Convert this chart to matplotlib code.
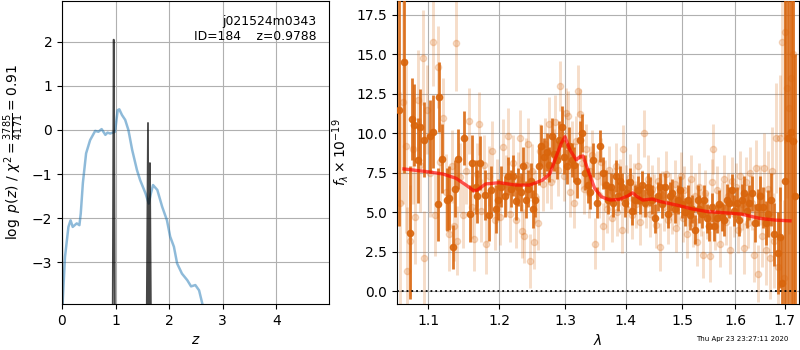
"""Redshift-fit summary for j021524m0343 ID=184: log p(z) on the left,
the G141 1D spectrum with the best-fit model on the right."""

import matplotlib

matplotlib.use("Agg")
import matplotlib.pyplot as plt
from matplotlib.ticker import NullLocator, ScalarFormatter

# ---- left panel: log p(z) -------------------------------------------------
PZ_Z = [0.0, 0.056, 0.12, 0.16, 0.2, 0.275, 0.325, 0.35, 0.39, 0.45, 0.525,
        0.62, 0.68, 0.74, 0.81, 0.85, 0.9, 0.99, 1.04, 1.07, 1.12, 1.18, 1.24,
        1.31, 1.4, 1.46, 1.56, 1.62, 1.66, 1.7, 1.78, 1.87, 1.96, 2.02, 2.09,
        2.15, 2.24, 2.34, 2.41, 2.49, 2.56, 2.62, 2.66]
PZ_LOGP = [-4.2, -2.88, -2.2, -2.05, -2.2, -2.12, -2.16, -1.9, -1.2, -0.53,
           -0.23, -0.02, -0.04, 0.02, -0.11, -0.06, -0.08, -0.04, 0.45, 0.47,
           0.34, 0.23, 0.0, -0.45, -0.91, -1.14, -1.44, -1.67, -1.44, -1.25,
           -1.36, -1.74, -2.05, -2.42, -2.65, -3.03, -3.26, -3.41, -3.55,
           -3.52, -3.64, -3.94, -4.3]

# fine-grid p(z) around the peaks
FINE_Z = [0.0, 0.012, 0.945, 0.964, 0.968, 0.99, 1.578, 1.606, 1.616, 1.632,
          1.642, 1.665]
FINE_LOGP = [-1.75, -5.0, -5.0, 2.05, 2.05, -5.0, -5.0, 0.16, -5.0, -5.0,
             -0.75, -5.0]

ROOT = "j021524m0343"
OBJ_ID = 184
Z_BEST = 0.9788
CHI2_NUM, CHI2_DEN, CHI2_RED = 3785, 4171, 0.91
TIMESTAMP = "Thu Apr 23 23:27:11 2020"

# ---- right panel: spectrum (microns, flux x 1e-19) -------------------------
MODEL_WAVE = [1.068, 1.098, 1.12, 1.138, 1.152, 1.163, 1.168, 1.18, 1.2, 1.224,
              1.245, 1.255, 1.265, 1.276, 1.286, 1.294, 1.3, 1.308, 1.318,
              1.324, 1.329, 1.337, 1.348, 1.359, 1.373, 1.389, 1.403, 1.412,
              1.42, 1.429, 1.446, 1.462, 1.49, 1.519, 1.548, 1.577, 1.612,
              1.649, 1.68, 1.711]
MODEL_FLUX = [7.74, 7.57, 7.42, 7.15, 6.72, 6.36, 6.40, 6.79, 6.87, 6.72,
              6.72, 6.87, 7.04, 7.42, 8.52, 9.36, 9.78, 8.94, 8.31, 8.52, 8.56,
              7.67, 6.51, 5.98, 5.77, 5.81, 6.02, 6.23, 5.98, 5.77, 5.83, 5.66,
              5.45, 5.2, 5.03, 4.97, 4.88, 4.61, 4.5, 4.45]

# binned spectrum (dark points); rows of the three lists line up
BIN_WAVE = [1.061, 1.0685, 1.076, 1.078, 1.081, 1.086, 1.089, 1.094, 1.103,
            1.106, 1.113, 1.115, 1.119, 1.126, 1.129, 1.134, 1.137, 1.1415,
            1.1495, 1.157, 1.161, 1.1655, 1.168, 1.1715, 1.1795, 1.1845, 1.188,
            1.1955, 1.198, 1.203, 1.208, 1.213, 1.217, 1.220, 1.224, 1.228,
            1.232, 1.235, 1.239, 1.243, 1.247, 1.250, 1.254, 1.260, 1.263,
            1.267, 1.271, 1.2745, 1.279, 1.283, 1.287, 1.2905, 1.295, 1.299,
            1.3025, 1.306, 1.3105, 1.3145, 1.319, 1.3235, 1.3275, 1.332, 1.3365,
            1.3405, 1.345, 1.351, 1.3567, 1.362, 1.366, 1.370, 1.3748, 1.3788,
            1.383, 1.3862, 1.390, 1.394, 1.3985, 1.403, 1.407, 1.411, 1.4155,
            1.4205, 1.4245, 1.429, 1.4335, 1.438, 1.442, 1.446, 1.451, 1.4555,
            1.460, 1.464, 1.469, 1.474, 1.4785, 1.482, 1.487, 1.4915, 1.496,
            1.500, 1.505, 1.510, 1.514, 1.5185, 1.5235, 1.5285, 1.531, 1.536,
            1.541, 1.5455, 1.550, 1.555, 1.560, 1.5645, 1.569, 1.574, 1.579,
            1.5835, 1.588, 1.5935, 1.5985, 1.6035, 1.608, 1.613, 1.6185, 1.623,
            1.6275, 1.633, 1.6395, 1.645, 1.6495, 1.656, 1.661, 1.666, 1.672,
            1.6785, 1.6855, 1.690, 1.695, 1.700, 1.706, 1.7125, 1.7165, 1.7215]
BIN_FLUX = [11.5, 14.5, 3.7, 10.9, 10.5, 8.3, 10.4, 9.6, 9.8,
            10.1, 5.5, 12.3, 8.4, 5.8, 5.9, 2.8, 6.5, 8.4,
            9.7, 4.9, 8.1, 6.6, 6.0, 8.1, 6.1, 4.8, 6.4,
            5.2, 5.8, 6.6, 6.0, 7.3, 6.5, 7.3, 5.7, 6.6,
            6.3, 7.9, 5.8, 6.5, 7.0, 5.2, 5.8, 7.9, 9.2,
            8.5, 8.8, 8.0, 9.8, 8.7, 8.3, 9.6, 10.4, 8.5,
            7.9, 9.2, 8.3, 8.0, 7.0, 9.6, 10.0, 7.5, 6.7,
            6.3, 8.3, 5.6, 9.2, 7.5, 6.7, 5.8, 6.6, 5.6,
            7.3, 6.0, 7.0, 6.6, 5.6, 6.2, 6.9, 5.1, 5.8,
            6.4, 5.8, 6.7, 5.6, 6.6, 6.3, 5.8, 4.6, 6.0,
            6.6, 5.5, 6.6, 4.9, 6.0, 6.2, 5.2, 5.8, 6.4,
            5.5, 5.0, 5.8, 4.8, 5.2, 3.9, 5.8, 5.2, 4.9,
            5.8, 4.6, 4.1, 5.3, 4.1, 4.6, 5.5, 4.7, 4.5,
            5.8, 5.6, 6.4, 5.1, 5.6, 4.5, 5.8, 6.2, 5.1,
            5.6, 6.2, 4.3, 5.3, 6.0, 5.3, 4.3, 4.9, 5.8,
            3.6, 2.4, 3.4, 0.5, 7.0, 9.7, 10.1, 9.5, 6.0]
BIN_ERR = [7.4, 7.0, 4.2, 2.6, 2.6, 2.7, 2.4, 2.4, 2.3,
           2.3, 2.3, 2.2, 2.2, 2.0, 2.0, 1.4, 1.8, 1.9,
           1.7, 1.8, 1.8, 1.7, 1.7, 1.7, 1.6, 1.6, 1.5,
           1.5, 1.3, 1.3, 1.3, 1.2, 1.2, 1.3, 1.2, 1.2,
           1.2, 1.2, 1.2, 1.2, 1.1, 1.2, 1.1, 1.2, 1.3,
           1.2, 1.2, 1.1, 1.2, 1.1, 1.2, 1.2, 1.3, 1.1,
           1.1, 1.2, 1.1, 1.1, 1.1, 1.2, 1.2, 1.1, 1.1,
           1.1, 1.1, 1.0, 1.0, 1.0, 1.0, 0.9, 0.9, 0.9,
           1.0, 0.9, 0.9, 0.9, 0.9, 0.9, 0.9, 0.9, 0.9,
           0.9, 0.9, 0.9, 0.9, 0.9, 0.9, 0.9, 0.9, 0.9,
           0.9, 0.9, 0.9, 0.9, 0.9, 0.9, 0.9, 0.9, 0.9,
           0.9, 0.9, 0.9, 0.9, 0.9, 0.9, 0.9, 0.9, 0.9,
           0.9, 0.9, 0.9, 0.9, 0.9, 0.9, 0.9, 0.9, 1.0,
           1.0, 1.0, 1.0, 1.0, 1.0, 1.0, 1.0, 1.1, 1.1,
           1.1, 1.1, 1.2, 1.2, 1.3, 1.3, 1.4, 1.5, 1.7,
           2.0, 2.6, 3.2, 3.0, 14.0, 13.0, 14.0, 12.0, 9.0]

# unbinned spectrum (faint points); rows of the three lists line up
RAW_WAVE = [1.0625, 1.0665, 1.070, 1.0725, 1.076, 1.080, 1.083, 1.086, 1.089,
            1.093, 1.094, 1.098, 1.102, 1.106, 1.109, 1.113, 1.116, 1.120,
            1.124, 1.128, 1.132, 1.135, 1.138, 1.140, 1.144, 1.148, 1.152,
            1.156, 1.160, 1.163, 1.167, 1.170, 1.174, 1.178, 1.181, 1.185,
            1.189, 1.193, 1.197, 1.201, 1.205, 1.209, 1.213, 1.216, 1.220,
            1.224, 1.228, 1.231, 1.233, 1.236, 1.240, 1.243, 1.246, 1.248,
            1.251, 1.254, 1.258, 1.261, 1.265, 1.268, 1.271, 1.275, 1.278,
            1.282, 1.285, 1.289, 1.292, 1.295, 1.298, 1.302, 1.305, 1.308,
            1.311, 1.315, 1.318, 1.321, 1.324, 1.328, 1.331, 1.334, 1.338,
            1.341, 1.344, 1.348, 1.351, 1.355, 1.358, 1.362, 1.365, 1.369,
            1.372, 1.376, 1.379, 1.383, 1.386, 1.390, 1.393, 1.396, 1.400,
            1.403, 1.407, 1.410, 1.414, 1.417, 1.421, 1.424, 1.428, 1.431,
            1.435, 1.438, 1.442, 1.445, 1.449, 1.452, 1.456, 1.460, 1.463,
            1.467, 1.471, 1.474, 1.478, 1.482, 1.486, 1.489, 1.493, 1.497,
            1.501, 1.504, 1.508, 1.512, 1.516, 1.520, 1.523, 1.527, 1.531,
            1.535, 1.539, 1.543, 1.547, 1.551, 1.555, 1.558, 1.562, 1.566,
            1.570, 1.574, 1.578, 1.582, 1.586, 1.590, 1.594, 1.598, 1.602,
            1.606, 1.610, 1.614, 1.618, 1.622, 1.626, 1.630, 1.634, 1.638,
            1.642, 1.646, 1.650, 1.654, 1.658, 1.662, 1.666, 1.670, 1.674,
            1.678, 1.682, 1.686, 1.690, 1.694, 1.698, 1.701, 1.705, 1.709,
            1.713, 1.718]
RAW_FLUX = [5.6, 12.0, 9.2, 1.3, 3.2, 9.0, 4.7, 12.1, 8.0,
            14.8, 2.1, 11.5, 7.5, 15.8, 4.8, 14.2, 8.2, 11.0,
            6.3, 3.6, 7.9, 4.1, 15.7, 3.2, 7.2, 4.8, 7.6,
            10.8, 5.3, 3.3, 7.4, 10.6, 5.1, 8.0, 3.0, 7.3,
            8.9, 4.5, 6.6, 4.7, 9.1, 6.8, 9.8, 4.9, 8.1,
            4.5, 7.1, 9.7, 3.8, 3.5, 8.0, 9.3, 1.9, 7.6,
            3.1, 6.0, 4.3, 8.9, 6.8, 9.3, 7.3, 10.6, 6.9,
            8.6, 10.7, 7.7, 13.0, 9.9, 7.3, 11.3, 11.1, 6.3,
            9.2, 5.6, 9.5, 12.7, 11.2, 8.1, 6.5, 9.0, 6.2,
            7.6, 8.6, 3.0, 7.3, 6.1, 8.2, 4.1, 6.8, 5.2,
            7.7, 4.6, 6.3, 7.9, 5.0, 6.9, 3.9, 9.0, 6.5,
            5.2, 7.2, 4.8, 6.6, 5.5, 7.9, 4.4, 6.2, 10.0,
            5.5, 7.1, 4.9, 6.5, 5.9, 4.2, 7.0, 2.8, 6.1,
            5.3, 7.4, 4.5, 6.0, 5.1, 6.8, 4.0, 5.7, 7.3,
            4.6, 6.4, 3.6, 5.6, 7.1, 4.3, 6.0, 3.1, 6.6,
            5.0, 2.3, 6.2, 4.8, 2.2, 6.9, 9.0, 4.1, 6.4,
            3.0, 5.4, 7.1, 4.4, 6.0, 2.6, 7.0, 4.9, 6.6,
            3.9, 7.3, 5.5, 2.7, 6.9, 4.3, 7.5, 5.6, 2.3,
            7.8, 1.1, 6.1, 3.5, 7.8, 2.6, 6.5, 2.1, 7.6,
            3.2, 9.7, 1.5, 9.7, 15.8, 0.8, 16.4, 12.9, 11.6,
            13.5, 15.0]
RAW_ERR = [7.0, 6.5, 5.5, 4.0, 3.5, 3.5, 3.0, 3.2, 3.0,
           3.0, 3.0, 2.8, 2.8, 2.8, 2.6, 2.6, 2.5, 2.5,
           2.4, 2.3, 2.3, 2.2, 3.0, 2.2, 2.2, 2.1, 2.1,
           2.1, 2.0, 2.0, 2.0, 2.0, 2.0, 1.9, 1.9, 1.9,
           1.9, 1.9, 1.8, 1.8, 1.8, 1.8, 1.8, 1.8, 1.8,
           1.8, 1.7, 1.8, 1.7, 1.7, 1.7, 1.7, 1.7, 1.7,
           1.7, 1.7, 1.7, 1.7, 1.7, 1.7, 1.7, 1.7, 1.7,
           1.7, 1.7, 1.7, 1.6, 1.6, 1.6, 1.6, 1.6, 1.6,
           1.6, 1.6, 1.6, 1.6, 1.6, 1.6, 1.6, 1.6, 1.6,
           1.6, 1.6, 1.6, 1.6, 1.5, 1.5, 1.5, 1.5, 1.5,
           1.5, 1.5, 1.5, 1.5, 1.5, 1.5, 1.5, 1.5, 1.5,
           1.5, 1.5, 1.5, 1.5, 1.5, 1.5, 1.5, 1.5, 1.5,
           1.5, 1.5, 1.5, 1.5, 1.5, 1.5, 1.5, 1.5, 1.5,
           1.5, 1.5, 1.5, 1.5, 1.5, 1.5, 1.5, 1.5, 1.5,
           1.5, 1.5, 1.5, 1.5, 1.5, 1.5, 1.5, 1.5, 1.5,
           1.5, 1.5, 1.5, 1.5, 1.6, 1.5, 1.6, 1.5, 1.5,
           1.5, 1.5, 1.5, 1.5, 1.5, 1.5, 1.5, 1.5, 1.5,
           1.5, 1.6, 1.6, 1.6, 1.6, 1.6, 1.6, 1.7, 1.7,
           1.8, 1.8, 1.9, 2.0, 2.2, 2.2, 2.4, 2.6, 2.8,
           3.0, 3.5, 3.5, 4.0, 6.0, 5.0, 7.0, 7.0, 8.0,
           9.0, 9.0]

WAVE_TICKS = [1.1, 1.2, 1.3, 1.4, 1.5, 1.6, 1.7]
FLUX_TICKS = [0.0, 2.5, 5.0, 7.5, 10.0, 12.5, 15.0, 17.5]

GRISM_COLOR = "#d9650c"
PZ_COLOR = "#1f77b4"


def _plot_pz(ax: plt.Axes) -> None:
    ax.plot(PZ_Z, PZ_LOGP, color=PZ_COLOR, alpha=0.5, linewidth=1.8)
    ax.plot(FINE_Z, FINE_LOGP, color="k", alpha=0.72, linewidth=1.3)
    ax.set_xlim(0, 4.99)
    ax.set_ylim(-3.95, 2.93)
    ax.set_yticks([-3, -2, -1, 0, 1, 2])
    ax.grid(True, color="#b0b0b0")
    ax.set_xlabel(r"$z$")
    ax.set_ylabel(
        r"$\log\ p(z)$" + " / "
        + r"$\chi^2=\frac{%d}{%d}=%.2f$" % (CHI2_NUM, CHI2_DEN, CHI2_RED)
    )
    ax.text(0.951, 0.955, f"{ROOT}\nID={OBJ_ID}    z={Z_BEST:.4f}",
            ha="right", va="top", transform=ax.transAxes, fontsize=8.9)


def _plot_spectrum(ax: plt.Axes) -> None:
    ax.errorbar(RAW_WAVE, RAW_FLUX, RAW_ERR, color=GRISM_COLOR, marker="o",
                markersize=4.5, linestyle="None", elinewidth=2.1, alpha=0.22,
                zorder=2)
    ax.errorbar(BIN_WAVE, BIN_FLUX, BIN_ERR, color=GRISM_COLOR, marker="o",
                markersize=4.5, linestyle="None", elinewidth=2.0, alpha=0.88,
                zorder=3)
    ax.plot(MODEL_WAVE, MODEL_FLUX, color="red", alpha=0.65, linewidth=2.4,
            zorder=4)
    ax.axhline(0, color="k", linestyle=":", linewidth=1.3, zorder=5)

    ax.set_xscale("log")
    ax.set_xlim(1.059, 1.730)
    ax.set_ylim(-0.82, 18.39)
    ax.set_xticks(WAVE_TICKS)
    ax.xaxis.set_major_formatter(ScalarFormatter())
    ax.xaxis.set_minor_locator(NullLocator())
    ax.set_yticks(FLUX_TICKS)
    ax.grid(True, color="#b0b0b0")
    ax.set_xlabel(r"$\lambda$")
    ax.set_ylabel(r"$f_\lambda\times10^{-19}$")


def main() -> None:
    fig = plt.figure(figsize=(8, 3.5), dpi=100)
    ax_pz = fig.add_axes([0.0775, 0.1314, 0.334, 0.866])
    ax_sp = fig.add_axes([0.4963, 0.1314, 0.5025, 0.866])

    _plot_pz(ax_pz)
    _plot_spectrum(ax_sp)

    fig.text(0.928, 0.03, TIMESTAMP, ha="center", va="center", fontsize=5)
    fig.savefig("out.png", dpi=100)
    plt.close(fig)


if __name__ == "__main__":
    main()
